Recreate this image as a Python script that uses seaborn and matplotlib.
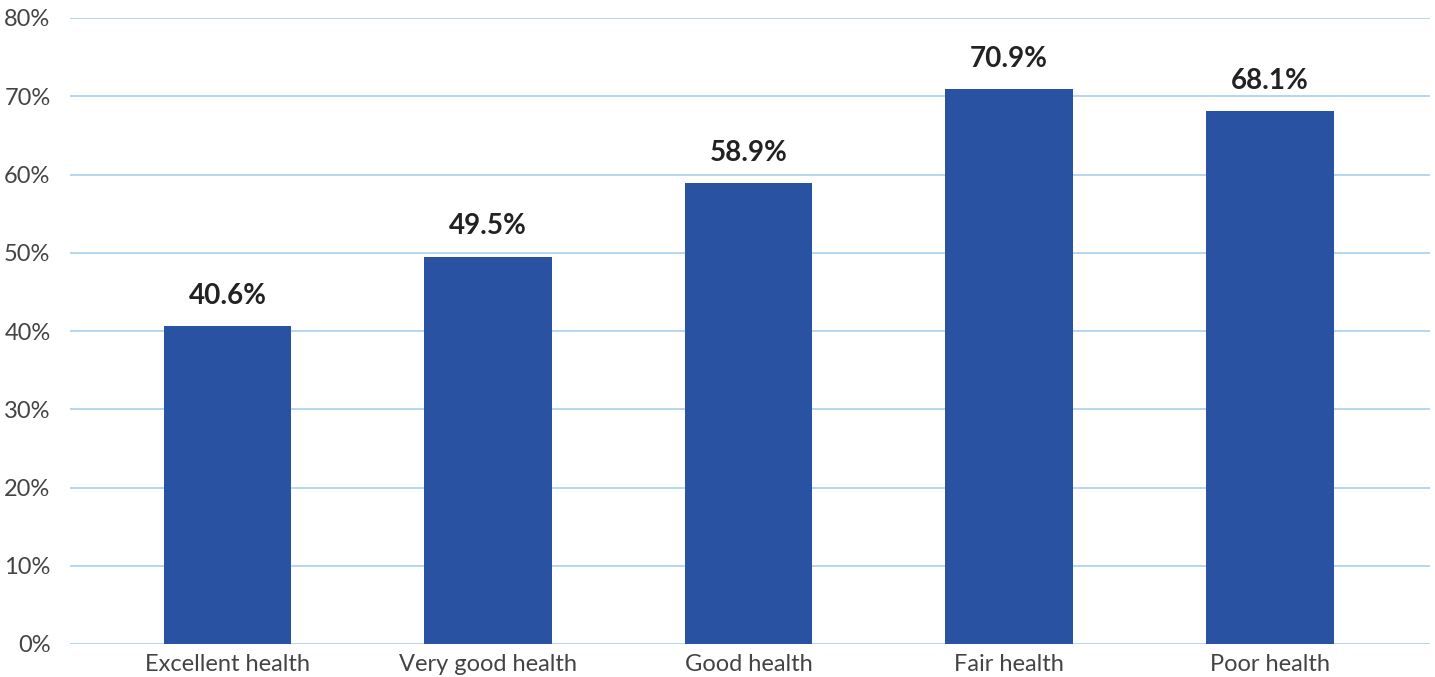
import matplotlib
matplotlib.use("Agg")
import matplotlib.pyplot as plt
import seaborn as sns
import pandas as pd
from matplotlib.ticker import FuncFormatter

categories = ["Excellent health", "Very good health", "Good health", "Fair health", "Poor health"]
values = [40.6, 49.5, 58.9, 70.9, 68.1]
labels = ["40.6%", "49.5%", "58.9%", "70.9%", "68.1%"]

sns.set_theme(style="white")
plt.rcParams['font.family'] = ['Lato', 'DejaVu Sans']

df = pd.DataFrame({"category": categories, "value": values})

fig = plt.figure(figsize=(14.35, 6.77), dpi=100)
ax = fig.add_axes([70/1435, 1-644/677, 1360/1435, (644-18)/677])

ax.set_axisbelow(True)
for y in range(0, 81, 10):
    ax.axhline(y, color="#A9D0EC", lw=1.2, zorder=0)

sns.barplot(data=df, x="category", y="value", color="#2A52A3", saturation=1,
            width=0.49, linewidth=0, ax=ax, zorder=2)

for i, (v, t) in enumerate(zip(values, labels)):
    ax.text(i, v + 2.2, t, ha="center", va="bottom", fontsize=20, fontweight="bold", color="#222222")

ax.set_ylim(0, 80)
ax.set_xlim(-0.604, 4.615)
ax.set_yticks(range(0, 81, 10))
ax.yaxis.set_major_formatter(FuncFormatter(lambda v, p: f"{int(v)}%"))
ax.tick_params(axis="both", labelsize=17, labelcolor="#444444", length=0)
ax.tick_params(axis="y", pad=14)
ax.tick_params(axis="x", pad=7)
for lbl in ax.get_xticklabels() + ax.get_yticklabels():
    lbl.set_fontweight("normal")
ax.set_xlabel("")
ax.set_ylabel("")
for s in ax.spines.values():
    s.set_visible(False)

fig.savefig("out.png", dpi=100)
